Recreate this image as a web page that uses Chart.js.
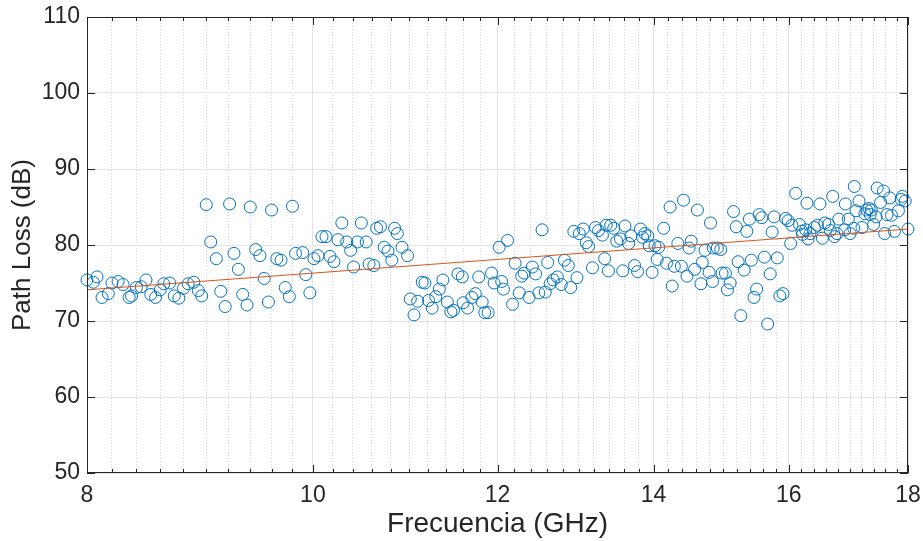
<!DOCTYPE html>
<html>
<head>
<meta charset="utf-8">
<script src="https://cdn.jsdelivr.net/npm/chart.js@4/dist/chart.umd.min.js"></script>
<style>
  html, body { margin: 0; padding: 0; background: #fff; }
  canvas { display: block; }
</style>
</head>
<body>
<canvas id="plChart" width="923" height="541"></canvas>
<script>
// medidas (frecuencia en GHz, path loss en dB)
const freqGHz = [
  8.00, 8.05, 8.08, 8.12, 8.17, 8.20, 8.25, 8.29, 8.34, 8.36,
  8.40, 8.44, 8.48, 8.52, 8.56, 8.60, 8.63, 8.68, 8.72, 8.76,
  8.80, 8.84, 8.89, 8.93, 8.96, 9.00, 9.04, 9.09, 9.13, 9.17,
  9.21, 9.25, 9.29, 9.33, 9.37, 9.40, 9.45, 9.49, 9.53, 9.57,
  9.60, 9.65, 9.69, 9.73, 9.77, 9.80, 9.83, 9.90, 9.93, 9.97,
  10.01, 10.05, 10.09, 10.13, 10.17, 10.21, 10.25, 10.29, 10.34, 10.38,
  10.41, 10.45, 10.49, 10.54, 10.57, 10.62, 10.65, 10.69, 10.73, 10.77,
  10.81, 10.84, 10.87, 10.92, 10.98, 11.01, 11.05, 11.09, 11.14, 11.17,
  11.21, 11.25, 11.29, 11.33, 11.37, 11.42, 11.46, 11.49, 11.54, 11.59,
  11.60, 11.65, 11.70, 11.74, 11.78, 11.82, 11.85, 11.89, 11.93, 11.96,
  12.02, 12.05, 12.07, 12.12, 12.18, 12.21, 12.26, 12.29, 12.32, 12.38,
  12.42, 12.46, 12.50, 12.54, 12.58, 12.61, 12.64, 12.68, 12.73, 12.78,
  12.82, 12.87, 12.90, 12.94, 12.98, 13.01, 13.06, 13.10, 13.13, 13.18,
  13.22, 13.26, 13.31, 13.34, 13.36, 13.39, 13.42, 13.46, 13.50, 13.55,
  13.58, 13.61, 13.66, 13.69, 13.74, 13.78, 13.82, 13.85, 13.88, 13.92,
  13.94, 13.98, 14.02, 14.05, 14.07, 14.14, 14.18, 14.23, 14.26, 14.29,
  14.34, 14.39, 14.42, 14.47, 14.50, 14.53, 14.58, 14.62, 14.67, 14.69,
  14.73, 14.79, 14.81, 14.84, 14.85, 14.91, 14.96, 14.98, 15.03, 15.06,
  15.10, 15.15, 15.19, 15.22, 15.26, 15.31, 15.35, 15.39, 15.42, 15.46,
  15.50, 15.54, 15.58, 15.62, 15.67, 15.71, 15.74, 15.77, 15.82, 15.86,
  15.91, 15.95, 15.99, 16.03, 16.05, 16.11, 16.17, 16.21, 16.22, 16.29,
  16.27, 16.31, 16.34, 16.41, 16.50, 16.46, 16.58, 16.54, 16.64, 16.67,
  16.71, 16.74, 16.81, 16.78, 16.91, 16.92, 16.97, 17.00, 17.06, 17.07,
  17.10, 17.15, 17.20, 17.25, 17.28, 17.32, 17.34, 17.36, 17.40, 17.44,
  17.46, 17.52, 17.57, 17.59, 17.63, 17.68, 17.71, 17.76, 17.83, 17.88,
  17.90, 17.95, 18.00
];
const pathLossDb = [
  75.4, 75.1, 75.8, 73.1, 73.6, 75.0, 75.2, 74.8, 73.1, 73.3,
  74.4, 74.5, 75.4, 73.5, 73.1, 74.1, 74.9, 75.0, 73.3, 73.0,
  74.3, 74.9, 75.1, 74.0, 73.3, 85.3, 80.4, 78.2, 73.9, 71.9,
  85.4, 78.9, 76.8, 73.5, 72.1, 85.0, 79.4, 78.6, 75.6, 72.5,
  84.6, 78.2, 78.0, 74.4, 73.2, 85.1, 78.9, 79.0, 76.1, 73.7,
  78.2, 78.6, 81.1, 81.1, 78.5, 77.8, 80.7, 82.9, 80.4, 79.3,
  77.1, 80.4, 82.9, 80.4, 77.5, 77.3, 82.2, 82.4, 79.7, 79.2,
  78.0, 82.2, 81.5, 79.7, 78.6, 72.9, 70.8, 72.6, 75.1, 75.0,
  72.7, 71.7, 73.2, 74.2, 75.4, 72.5, 71.2, 71.4, 76.2, 75.8,
  72.4, 71.7, 73.1, 73.6, 75.8, 72.5, 71.1, 71.1, 76.3, 75.0,
  79.7, 75.2, 74.2, 80.6, 72.2, 77.6, 73.7, 75.9, 76.3, 73.1,
  77.1, 76.2, 73.7, 82.0, 73.8, 77.7, 74.9, 75.4, 75.8, 74.8,
  78.0, 77.3, 74.4, 81.8, 75.7, 81.5, 82.1, 80.3, 79.8, 77.0,
  82.3, 81.9, 81.3, 78.2, 82.6, 76.6, 82.6, 82.2, 80.5, 80.8,
  76.6, 82.5, 80.2, 81.2, 77.3, 76.5, 82.1, 81.0, 81.5, 81.2,
  79.9, 76.4, 79.9, 78.1, 79.7, 82.2, 77.6, 85.0, 74.6, 77.2,
  80.2, 77.2, 85.9, 75.9, 79.6, 80.5, 76.8, 84.6, 74.9, 77.7,
  79.3, 76.4, 82.9, 75.2, 79.6, 79.6, 79.4, 76.3, 76.3, 74.1,
  75.0, 84.4, 82.4, 77.8, 70.7, 76.7, 81.8, 83.4, 78.0, 73.1,
  74.2, 84.0, 83.6, 78.4, 69.6, 76.2, 81.7, 83.7, 78.3, 73.3,
  73.6, 83.5, 83.2, 80.2, 82.6, 86.8, 82.7, 81.8, 81.4, 85.5,
  82.0, 80.8, 81.5, 82.3, 85.4, 82.6, 82.9, 80.9, 82.7, 81.9,
  86.4, 81.1, 83.4, 81.5, 82.0, 85.4, 83.4, 81.5, 82.2, 87.7,
  84.5, 85.8, 82.3, 84.1, 84.6, 84.8, 84.0, 84.6, 82.7, 83.7,
  87.5, 85.6, 87.1, 81.5, 84.0, 86.2, 83.9, 81.8, 84.5, 86.0,
  86.4, 85.8, 82.1
];

// recta de ajuste (extremos)
const fitFreqGHz = [8, 18];
const fitLossDb = [74.1, 82.1];

const xMajorTicks = [8, 10, 12, 14, 16, 18];
const xMinorTicks = [
  8.2, 8.4, 8.6, 8.8, 9.0, 9.2, 9.4, 9.6, 9.8,
  10.2, 10.4, 10.6, 10.8, 11.0, 11.2, 11.4, 11.6, 11.8,
  12.2, 12.4, 12.6, 12.8, 13.0, 13.2, 13.4, 13.6, 13.8,
  14.2, 14.4, 14.6, 14.8, 15.0, 15.2, 15.4, 15.6, 15.8,
  16.2, 16.4, 16.6, 16.8, 17.0, 17.2, 17.4, 17.6, 17.8
];
const yTicks = [50, 60, 70, 80, 90, 100, 110];

const FONT = '"Liberation Sans", Arial, Helvetica, sans-serif';
const AXIS_COLOR = '#262626';

// caja de ejes estilo MATLAB, con marcas hacia dentro
const axesBox = {
  id: 'axesBox',
  afterDraw(chart) {
    const { ctx, chartArea: a, scales: { x, y } } = chart;
    ctx.save();
    ctx.strokeStyle = AXIS_COLOR;
    ctx.lineWidth = 1;
    ctx.beginPath();
    const vTick = (v, len) => {
      const px = Math.round(x.getPixelForValue(v)) + 0.5;
      ctx.moveTo(px, a.bottom); ctx.lineTo(px, a.bottom - len);
      ctx.moveTo(px, a.top); ctx.lineTo(px, a.top + len);
    };
    xMajorTicks.forEach(v => vTick(v, 8));
    xMinorTicks.forEach(v => vTick(v, 4));
    yTicks.forEach(v => {
      const py = Math.round(y.getPixelForValue(v)) + 0.5;
      ctx.moveTo(a.left, py); ctx.lineTo(a.left + 8, py);
      ctx.moveTo(a.right, py); ctx.lineTo(a.right - 8, py);
    });
    ctx.stroke();
    ctx.strokeRect(Math.round(a.left) + 0.5, Math.round(a.top) + 0.5,
      Math.round(a.width) - 1, Math.round(a.height) - 1);
    ctx.restore();
  }
};

new Chart(document.getElementById('plChart'), {
  data: {
    datasets: [
      {
        type: 'scatter',
        label: 'Medidas',
        data: freqGHz.map((f, i) => ({ x: f, y: pathLossDb[i] })),
        pointStyle: 'circle',
        pointRadius: 6,
        pointBorderWidth: 1,
        pointBackgroundColor: 'rgba(0,0,0,0)',
        pointBorderColor: '#0072BD',
        clip: false,
        order: 1
      },
      {
        type: 'line',
        label: 'Ajuste',
        data: fitFreqGHz.map((f, i) => ({ x: f, y: fitLossDb[i] })),
        borderColor: '#D95319',
        borderWidth: 1,
        pointRadius: 0,
        fill: false,
        order: 0
      }
    ]
  },
  options: {
    responsive: false,
    animation: false,
    devicePixelRatio: 1,
    layout: { padding: { left: 0, top: 17, right: 15, bottom: 0 } },
    plugins: { legend: { display: false }, tooltip: { enabled: false } },
    scales: {
      x: {
        type: 'logarithmic',
        position: 'bottom',
        min: 8,
        max: 18,
        afterBuildTicks: s => { s.ticks = xMajorTicks.map(v => ({ value: v })); },
        afterFit: s => { s.height = 68; s.paddingLeft = 0; s.paddingRight = 0; },
        ticks: {
          autoSkip: false,
          maxRotation: 0,
          padding: 9,
          color: AXIS_COLOR,
          font: { family: FONT, size: 23 },
          callback: v => String(v)
        },
        grid: { color: '#e3e3e3', drawTicks: false },
        border: { display: false },
        title: {
          display: true,
          text: 'Frecuencia (GHz)',
          color: AXIS_COLOR,
          font: { family: FONT, size: 28 },
          padding: { top: 0, bottom: 0 }
        }
      },
      xMinor: {
        type: 'logarithmic',
        position: 'bottom',
        min: 8,
        max: 18,
        afterBuildTicks: s => { s.ticks = xMinorTicks.map(v => ({ value: v })); },
        afterFit: s => { s.height = 0; s.paddingLeft = 0; s.paddingRight = 0; },
        ticks: { display: false },
        grid: { color: '#d6d6d6', drawTicks: false },
        border: { display: false, dash: [1, 2] }
      },
      y: {
        type: 'linear',
        min: 50,
        max: 110,
        afterBuildTicks: s => { s.ticks = yTicks.map(v => ({ value: v })); },
        afterFit: s => { s.width = 87; s.paddingTop = 0; s.paddingBottom = 0; },
        ticks: {
          padding: 7,
          color: AXIS_COLOR,
          font: { family: FONT, size: 23 }
        },
        grid: { color: '#e3e3e3', drawTicks: false },
        border: { display: false },
        title: {
          display: true,
          text: 'Path Loss (dB)',
          color: AXIS_COLOR,
          font: { family: FONT, size: 26 },
          padding: { top: 7, bottom: 0 }
        }
      }
    }
  },
  plugins: [axesBox]
});
</script>
</body>
</html>
